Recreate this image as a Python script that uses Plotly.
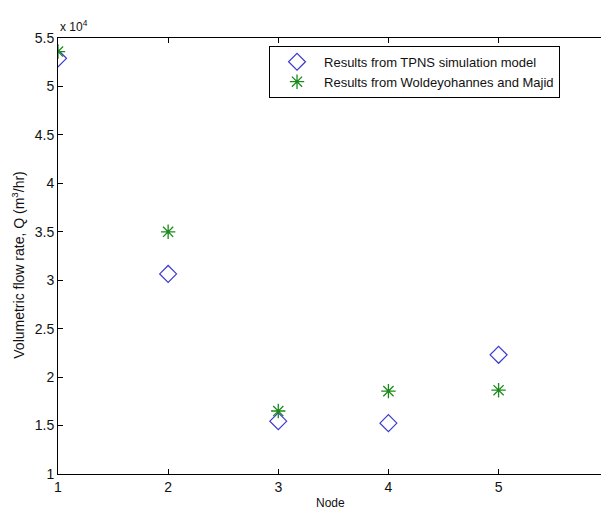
import plotly.graph_objects as go

nodes = [1, 2, 3, 4, 5]
tpns_flow = [52900, 30650, 15450, 15250, 22300]
wm_flow = [53600, 35000, 16500, 18550, 18650]
y_ticks = [10000, 15000, 20000, 25000, 30000, 35000, 40000, 45000, 50000, 55000]
y_tick_labels = ["1", "1.5", "2", "2.5", "3", "3.5", "4", "4.5", "5", "5.5"]
x_ticks = [1, 2, 3, 4, 5]

FONT = "Liberation Sans, Arial, sans-serif"

fig = go.Figure()
fig.add_trace(go.Scatter(
    x=nodes, y=tpns_flow, mode="markers",
    name="Results from TPNS simulation model",
    marker=dict(symbol="diamond-open", size=13, color="#3a3ad0", line=dict(width=1.2, color="#3a3ad0")),
))
fig.add_trace(go.Scatter(
    x=nodes, y=wm_flow, mode="markers",
    name="Results from Woldeyohannes and Majid",
    marker=dict(symbol="asterisk-open", size=12, color="#1a8a1a", line=dict(width=1.3, color="#1a8a1a")),
))

fig.update_layout(
    width=601, height=510,
    margin=dict(l=58, r=0, t=38, b=36),
    paper_bgcolor="white", plot_bgcolor="white",
    font=dict(family=FONT, size=13, color="#111"),
    showlegend=True,
    legend=dict(
        x=0.3886, y=0.982, xanchor="left", yanchor="top",
        bgcolor="white", bordercolor="black", borderwidth=1,
        font=dict(family=FONT, size=13, color="#111"),
        tracegroupgap=0, itemwidth=44,
    ),
    xaxis=dict(
        range=[1, 5.93], tickvals=x_ticks, ticktext=[str(v) for v in x_ticks],
        ticks="inside", ticklen=5, tickcolor="black",
        showline=True, linecolor="black", linewidth=1, mirror="ticks",
        showgrid=False, zeroline=False,
        tickfont=dict(family=FONT, size=14, color="#111"),
    ),
    yaxis=dict(
        range=[10000, 55000], tickvals=y_ticks, ticktext=y_tick_labels,
        ticks="inside", ticklen=5, tickcolor="black",
        showline=True, linecolor="black", linewidth=1, mirror=False,
        showgrid=False, zeroline=False,
        tickfont=dict(family=FONT, size=14, color="#111"),
    ),
    annotations=[
        dict(text="x 10<sup>4</sup>", xref="paper", yref="paper", x=0.0, y=1.0,
             xanchor="left", yanchor="bottom", showarrow=False, xshift=0, yshift=2,
             font=dict(family=FONT, size=12, color="#111")),
        dict(text="Node", xref="x", yref="paper", x=3.47, y=0, xanchor="center", yanchor="top",
             showarrow=False, yshift=-20, font=dict(family=FONT, size=12, color="#111")),
        dict(text="Volumetric flow rate, Q (m<sup>3</sup>/hr)", xref="paper", yref="paper",
             x=0, y=0.48, xanchor="center", yanchor="middle", textangle=-90,
             showarrow=False, xshift=-40, font=dict(family=FONT, size=14, color="#111")),
    ],
)

fig.write_html("out.html")
